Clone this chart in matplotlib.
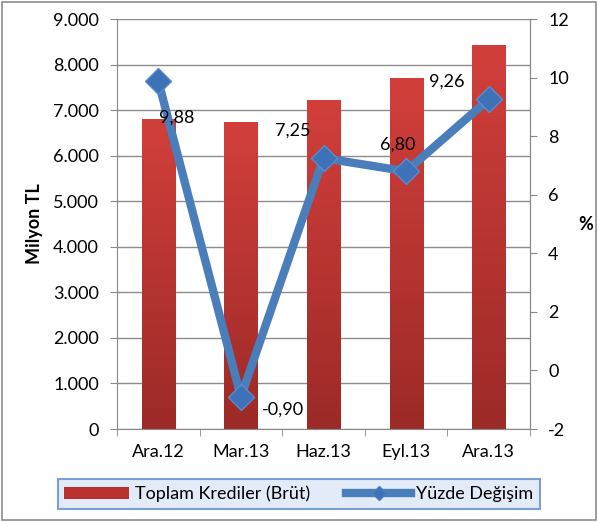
import numpy as np
import matplotlib.pyplot as plt
from matplotlib.patches import Rectangle
from matplotlib.lines import Line2D
from matplotlib.colors import LinearSegmentedColormap

plt.rcParams['font.family'] = ['Lato', 'DejaVu Sans']

donemler = ['Ara.12', 'Mar.13', 'Haz.13', 'Eyl.13', 'Ara.13']
krediler = [6800, 6740, 7220, 7700, 8430]
yuzde = [9.88, -0.90, 7.25, 6.80, 9.26]
yuzde_etiket = ['9,88', '-0,90', '7,25', '6,80', '9,26']
sol_ticks = [0, 1000, 2000, 3000, 4000, 5000, 6000, 7000, 8000, 9000]
sag_ticks = [-2, 0, 2, 4, 6, 8, 10, 12]

# label offsets in points (dx, dy)
offsets = [(13, -26), (30, -9), (-22, 20), (-6, 19), (-30, 13)]

fig = plt.figure(figsize=(5.98, 5.22), dpi=100)
ax = fig.add_axes([117/598, 1 - 429/522, 413/598, 410/522])
x = np.arange(len(donemler))

bars = ax.bar(x, krediler, width=0.4, color='#c0392b', zorder=2)
grad = np.linspace(0, 1, 256).reshape(-1, 1)
cmap = LinearSegmentedColormap.from_list('kirmizi', ['#9c2a27', '#d23f3b'])
for b in bars:
    b.set_facecolor('none')
    im = ax.imshow(grad, cmap=cmap, aspect='auto', origin='lower',
                   extent=[b.get_x(), b.get_x() + b.get_width(), 0, b.get_height()],
                   zorder=2)
    im.set_clip_path(b)

ax.set_xlim(-0.5, len(donemler) - 0.5)
ax.set_ylim(0, 9000)
ax.set_yticks(sol_ticks)
ax.set_yticklabels([f'{v:,}'.replace(',', '.') for v in sol_ticks], fontsize=13)
ax.set_xticks(x)
ax.set_xticklabels(donemler, fontsize=13)
ax.set_xticks(np.arange(len(donemler) + 1) - 0.5, minor=True)
ax.tick_params(axis='x', which='major', length=0, pad=11)
ax.tick_params(axis='x', which='minor', length=5, color='#888888')
ax.tick_params(axis='y', length=5, color='#888888', pad=8)
ax.grid(axis='y', color='#8c8c8c', linewidth=1, zorder=0)
ax.set_axisbelow(True)
ax.spines['top'].set_visible(False)
for s in ['left', 'bottom', 'right']:
    ax.spines[s].set_color('#888888')
ax.set_ylabel('Milyon TL', fontsize=13, fontweight='bold', labelpad=7)

ax2 = ax.twinx()
ax2.set_ylim(-2, 12)
ax2.set_yticks(sag_ticks)
ax2.set_yticklabels([str(v) for v in sag_ticks], fontsize=13)
ax2.tick_params(axis='y', length=5, color='#888888', pad=8)
for s in ['top', 'left', 'bottom']:
    ax2.spines[s].set_visible(False)
ax2.spines['right'].set_color('#888888')
ax2.plot(x, yuzde, color='#4a7ebb', linewidth=6, marker='D', markersize=13,
         markerfacecolor='#3d72b8', markeredgecolor='#5a8ccc', zorder=3)
for i, (v, t) in enumerate(zip(yuzde, yuzde_etiket)):
    ax2.annotate(t, (x[i], v), xytext=offsets[i], textcoords='offset points',
                 ha='center', va='center', fontsize=13, zorder=4)
ax2.set_ylabel('%', fontsize=13, fontweight='bold', rotation=0, labelpad=12, va='center')

handles = [Rectangle((0, 0), 1, 1, facecolor='#b8312e'),
           Line2D([0], [0], color='#4a7ebb', linewidth=6, marker='D',
                  markersize=7, markerfacecolor='#3d72b8')]
leg = fig.legend(handles, ['Toplam Krediler (Brüt)', 'Yüzde Değişim'],
                 loc='center', bbox_to_anchor=(0.5, 1 - 494/522), ncol=2,
                 fontsize=13, frameon=True, fancybox=False, handlelength=3.6,
                 columnspacing=2.0, handletextpad=0.3, borderpad=0.35,
                 borderaxespad=0)
leg.get_frame().set_facecolor('#dbe7f6')
leg.get_frame().set_edgecolor('#5b8bc9')
leg.get_frame().set_linewidth(1.5)

fig.patches.append(Rectangle((0.004, 0.004), 0.992, 0.992, transform=fig.transFigure,
                             fill=False, edgecolor='#8c8c8c', linewidth=1.2))

fig.savefig('out.png', dpi=100)
